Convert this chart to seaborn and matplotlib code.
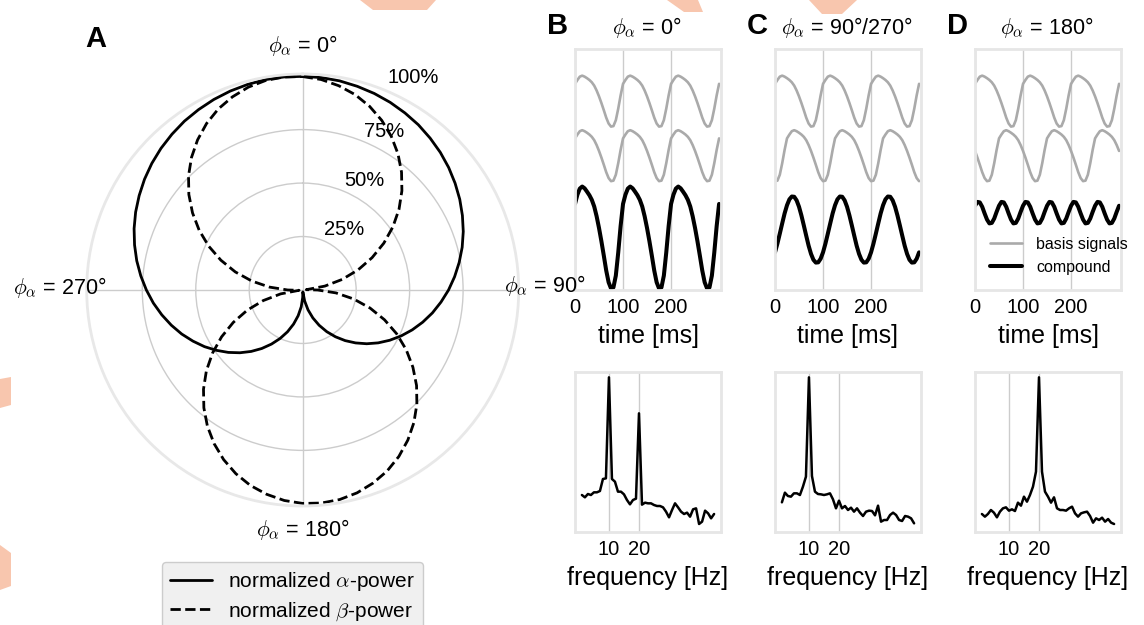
import numpy as np
import matplotlib
matplotlib.use("Agg")
import matplotlib.pyplot as plt
import seaborn as sns
from matplotlib.patches import Polygon

# ------------------------------------------------------------------ data
# Panel A: normalized band power versus alpha phase (deg)
phase_deg = np.arange(0, 361, 5)
alpha_power = [0.999, 0.997, 0.993, 0.986, 0.978, 0.968, 0.956, 0.943, 0.927, 0.910,
               0.891, 0.870, 0.848, 0.824, 0.799, 0.772, 0.743, 0.713, 0.682, 0.649,
               0.616, 0.581, 0.545, 0.508, 0.470, 0.431, 0.391, 0.350, 0.309, 0.267,
               0.225, 0.182, 0.139, 0.096, 0.052, 0.009, 0.035, 0.079, 0.122, 0.165,
               0.208, 0.250, 0.292, 0.334, 0.375, 0.415, 0.454, 0.492, 0.530, 0.566,
               0.602, 0.636, 0.669, 0.701, 0.731, 0.760, 0.788, 0.814, 0.839, 0.862,
               0.883, 0.903, 0.921, 0.937, 0.951, 0.964, 0.974, 0.983, 0.990, 0.995,
               0.999, 1.000, 0.999]
beta_power = [0.998, 0.988, 0.970, 0.946, 0.914, 0.875, 0.829, 0.777, 0.719, 0.656,
              0.588, 0.515, 0.438, 0.358, 0.276, 0.191, 0.105, 0.017, 0.070, 0.156,
              0.242, 0.326, 0.407, 0.485, 0.559, 0.629, 0.695, 0.755, 0.809, 0.857,
              0.899, 0.934, 0.961, 0.982, 0.995, 1.000, 0.998, 0.988, 0.970, 0.946,
              0.914, 0.875, 0.829, 0.777, 0.719, 0.656, 0.588, 0.515, 0.438, 0.358,
              0.276, 0.191, 0.105, 0.017, 0.070, 0.156, 0.242, 0.326, 0.407, 0.485,
              0.559, 0.629, 0.695, 0.755, 0.809, 0.857, 0.899, 0.934, 0.961, 0.982,
              0.995, 1.000, 0.998]
theta_tick_deg = [0, 90, 180, 270]
theta_labels = [r"$\phi_\alpha$ = 0°", r"$\phi_\alpha$ = 90°",
                r"$\phi_\alpha$ = 180°", r"$\phi_\alpha$ = 270°"]
radial_ticks = [0.25, 0.5, 0.75]
radial_labels = ["25%", "50%", "75%", "100%"]
legend_labels_A = [r"normalized $\alpha$-power", r"normalized $\beta$-power"]

# Panels B-D: one period (100 ms, 5 ms steps) of each time trace
period_ms = np.arange(0, 100, 5)
basis = [0.68, 0.83, 0.96, 1.00, 0.96, 0.90, 0.83, 0.74, 0.61, 0.42,
         0.19, -0.07, -0.35, -0.64, -0.87, -0.99, -0.97, -0.74, -0.29, 0.23]
basis_c = [-0.99, -0.97, -0.74, -0.29, 0.23, 0.68, 0.83, 0.96, 1.00, 0.96,
           0.90, 0.83, 0.74, 0.61, 0.42, 0.19, -0.07, -0.35, -0.64, -0.87]
basis_d = [0.19, -0.07, -0.35, -0.64, -0.87, -0.99, -0.97, -0.74, -0.29, 0.23,
           0.68, 0.83, 0.96, 1.00, 0.96, 0.90, 0.83, 0.74, 0.61, 0.42]
comp_b = [1.32, 1.68, 1.92, 2.00, 1.93, 1.80, 1.66, 1.48, 1.22, 0.84,
          0.38, -0.14, -0.70, -1.28, -1.74, -1.98, -1.94, -1.48, -0.58, 0.46]
comp_c = [-0.89, -0.55, -0.16, 0.24, 0.63, 0.95, 1.18, 1.29, 1.28, 1.14,
          0.89, 0.55, 0.16, -0.24, -0.63, -0.95, -1.18, -1.29, -1.28, -1.14]
comp_d = [0.27, 0.42, 0.40, 0.23, -0.03, -0.27, -0.42, -0.40, -0.23, 0.03,
          0.27, 0.42, 0.40, 0.23, -0.03, -0.27, -0.42, -0.40, -0.23, 0.03]
time_ticks = [0, 100, 200]

# Spectra
freq_hz = np.arange(1, 46)
spec_b = [11.1, 10.4, 11.4, 11.1, 11.9, 11.9, 12.3, 15.9, 16.1, 46.4,
          15.9, 15.1, 12.1, 12.1, 11.3, 9.6, 8.3, 9.6, 10.0, 35.6,
          8.2, 8.8, 8.6, 8.6, 8.1, 7.8, 7.8, 7.4, 6.1, 4.4,
          6.6, 8.6, 7.4, 6.1, 5.4, 5.8, 4.6, 6.8, 7.1, 2.4,
          3.1, 6.4, 5.6, 4.1, 5.4]
spec_c = [8.9, 11.8, 10.8, 10.6, 11.6, 11.6, 11.1, 13.6, 16.6, 46.4,
          16.8, 12.1, 11.4, 11.3, 11.1, 11.3, 11.6, 9.8, 7.1, 9.4,
          7.1, 7.8, 6.6, 7.3, 6.1, 7.1, 5.8, 4.8, 6.1, 6.4,
          6.3, 5.0, 7.9, 3.1, 3.6, 3.6, 5.1, 5.8, 5.1, 3.6,
          3.3, 4.8, 4.6, 4.1, 2.6]
spec_d = [5.4, 4.6, 5.4, 6.6, 5.8, 4.4, 6.1, 7.1, 7.4, 6.4,
          6.8, 6.3, 8.8, 7.9, 10.6, 9.1, 11.1, 13.6, 18.1, 46.4,
          18.1, 12.1, 10.6, 8.8, 10.4, 7.1, 6.6, 6.6, 6.4, 7.1,
          7.6, 5.6, 4.6, 5.6, 5.9, 6.1, 4.8, 2.8, 4.1, 3.6,
          4.3, 3.1, 3.9, 2.8, 2.4]
freq_ticks = [10, 20]

panel_letters = ["B", "C", "D"]
panel_titles = [r"$\phi_\alpha$ = 0°", r"$\phi_\alpha$ = 90°/270°",
                r"$\phi_\alpha$ = 180°"]
second_basis = [basis, basis_c, basis_d]
compounds = [comp_b, comp_c, comp_d]
spectra = [spec_b, spec_c, spec_d]

# ------------------------------------------------------------------ style
sns.set_theme(style="white")
plt.rcParams["font.family"] = ["Liberation Sans", "DejaVu Sans"]
plt.rcParams["mathtext.fontset"] = "cm"
plt.rcParams["text.color"] = "black"
plt.rcParams["axes.labelcolor"] = "black"
plt.rcParams["xtick.color"] = "black"

W, H = 1144, 625
fig = plt.figure(figsize=(W / 100, H / 100), dpi=100)
fig.patch.set_facecolor("white")


def fx(px):
    return px / W


def fy(py):
    return 1 - py / H


# faint decorative shapes at the figure edges
peach = "#f8c6ae"
for poly in [[(360, 0), (436, 0), (427, 10), (373, 10)],
             [(667, 0), (698, 0), (703, 12), (684, 12)],
             [(809, 0), (857, 0), (842, 14), (822, 14)],
             [(0, 379), (11, 377), (11, 405), (0, 408)],
             [(0, 545), (11, 553), (11, 586), (0, 590)]]:
    fig.add_artist(Polygon([(fx(x), fy(y)) for x, y in poly], closed=True,
                           transform=fig.transFigure, facecolor=peach,
                           edgecolor="none", zorder=0))

# ------------------------------------------------------------------ panel A
cx, cy, R = 302.7, 290.0, 216.0
axA = fig.add_axes([fx(cx - R), fy(cy + R), 2 * R / W, 2 * R / H], projection="polar")
axA.set_theta_zero_location("N")
axA.set_theta_direction(-1)
theta = np.deg2rad(phase_deg)
sns.lineplot(x=theta, y=alpha_power, ax=axA, color="black", linewidth=2.0,
             sort=False, estimator=None, label=legend_labels_A[0])
sns.lineplot(x=theta, y=beta_power, ax=axA, color="black", linewidth=2.0,
             linestyle="--", sort=False, estimator=None, label=legend_labels_A[1])
axA.set_ylim(0, 1.01)
axA.set_xticks(np.deg2rad(theta_tick_deg))
axA.set_xticklabels([""] * 4)
axA.set_yticks(radial_ticks)
axA.set_yticklabels([""] * 3)
axA.grid(True, color="#cccccc", linewidth=1.0)
axA.spines["polar"].set_edgecolor("#e8e8e8")
axA.spines["polar"].set_linewidth(2.0)
axA.set_xlabel("")
axA.set_ylabel("")
# angle labels drawn at figure level so they stay on top of neighbouring panels
for (px, py), lab in zip([(302.7, 45), (544.5, 286), (302.7, 530), (59.5, 287)],
                         theta_labels):
    fig.text(fx(px), fy(py), lab, ha="center", va="center", fontsize=15.5, zorder=10)
for (ang, rr), lab in zip([(34.3, 0.34), (29.3, 0.585), (27.3, 0.833), (27.4, 1.118)],
                          radial_labels):
    axA.text(np.deg2rad(ang), rr, lab, ha="center", va="center", fontsize=14.5)
hA, lA = axA.get_legend_handles_labels()
axA.legend(hA, lA, loc="upper left", bbox_to_anchor=(fx(161.8), fy(561.7)),
           bbox_transform=fig.transFigure, borderaxespad=0, fontsize=15,
           frameon=True, facecolor="#f0f0f0", edgecolor="#cccccc", framealpha=1,
           fancybox=True, handlelength=2.0, handletextpad=0.8, labelspacing=0.35,
           borderpad=0.4)
fig.text(fx(96), fy(39), "A", fontsize=21, fontweight="bold", ha="center", va="center")

# ------------------------------------------------------------------ panels B-D
t_ms = np.arange(0, 301, 5)


def full(arr):
    return np.append(np.tile(arr, 3), arr[0])


lefts = [575, 775, 975]
comp_offsets = [2.04, 2.36, 3.02]
gray = "#aaaaaa"
spine_col = "#e6e6e6"


def style(ax):
    for s in ax.spines.values():
        s.set_visible(True)
        s.set_color(spine_col)
        s.set_linewidth(2.0)
    ax.set_yticks([])
    ax.grid(axis="x", color="#cccccc", linewidth=1.0)
    ax.grid(axis="y", visible=False)
    ax.tick_params(axis="x", length=0, pad=6, labelsize=14.5)
    ax.set_facecolor("white")


for i in range(3):
    axT = fig.add_axes([fx(lefts[i]), fy(290), 146 / W, 241 / H])
    lab1 = "basis signals" if i == 2 else None
    lab2 = "compound" if i == 2 else None
    sns.lineplot(x=t_ms, y=full(basis) + 7.37, ax=axT, color=gray, linewidth=1.9,
                 estimator=None, sort=False, label=lab1)
    sns.lineplot(x=t_ms, y=full(second_basis[i]) + 5.24, ax=axT, color=gray,
                 linewidth=1.9, estimator=None, sort=False)
    sns.lineplot(x=t_ms, y=full(compounds[i]) + comp_offsets[i], ax=axT, color="black",
                 linewidth=2.9, estimator=None, sort=False, label=lab2)
    axT.set_xlim(0, 304)
    axT.set_ylim(0, 9.41)
    axT.set_xticks(time_ticks)
    axT.set_xticklabels([str(v) for v in time_ticks])
    style(axT)
    axT.set_xlabel("time [ms]", fontsize=18, labelpad=5)
    axT.set_ylabel("")
    if i == 2:
        hT, lT = axT.get_legend_handles_labels()
        axT.legend(hT, lT, loc="center left", bbox_to_anchor=(fx(983.6), fy(256)),
                   bbox_transform=fig.transFigure, borderaxespad=0, frameon=False,
                   fontsize=11.5, handlelength=2.0, handletextpad=0.9,
                   labelspacing=0.5)
    elif axT.get_legend() is not None:
        axT.get_legend().remove()

    axF = fig.add_axes([fx(lefts[i]), fy(532), 146 / W, 160 / H])
    sns.lineplot(x=freq_hz, y=spectra[i], ax=axF, color="black", linewidth=1.8,
                 estimator=None, sort=False)
    axF.set_xlim(-1.3, 47.3)
    axF.set_ylim(0, 48)
    axF.set_xticks(freq_ticks)
    axF.set_xticklabels([str(v) for v in freq_ticks])
    style(axF)
    axF.set_xlabel("frequency [Hz]", fontsize=18, labelpad=5)
    axF.set_ylabel("")

    xc = lefts[i] + 73
    fig.text(fx(xc - 90.5), fy(26), panel_letters[i], fontsize=21, fontweight="bold",
             ha="center", va="center")
    fig.text(fx(xc - 1), fy(27), panel_titles[i], fontsize=15.5,
             ha="center", va="center")

fig.savefig("out.png", dpi=100, facecolor="white")
